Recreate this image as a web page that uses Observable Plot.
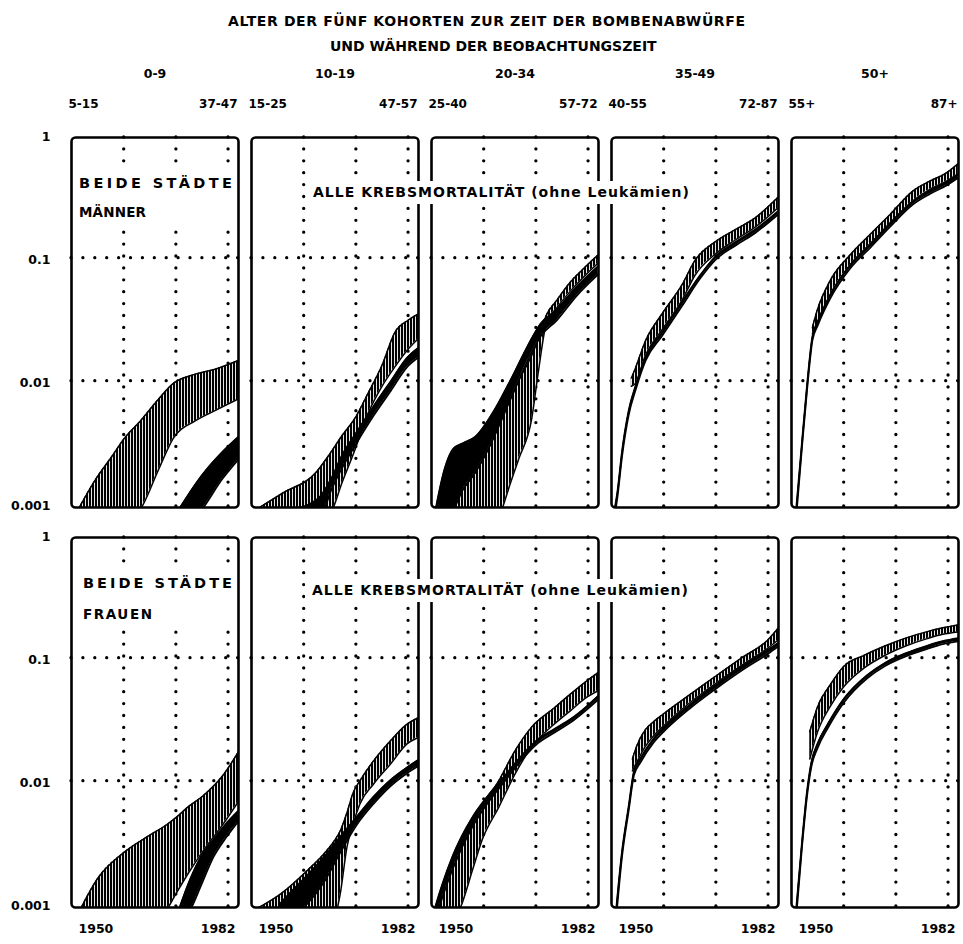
<!DOCTYPE html>
<html>
<head>
<meta charset="utf-8">
<script src="https://cdn.jsdelivr.net/npm/d3@7"></script>
<script src="https://cdn.jsdelivr.net/npm/@observablehq/plot@0.6"></script>
<style>
  body { margin: 0; background: #fff; }
  #wrap { position: relative; width: 963px; height: 944px; overflow: hidden; background: #fff; }
  #wrap svg { position: absolute; left: 0; top: 0; }
  .lbl { position: absolute; white-space: pre; font-family: "DejaVu Sans", sans-serif; font-weight: bold; line-height: 1.2; color: #000; }
  .box { position: absolute; background: #fff; }
</style>
</head>
<body>
<div id="wrap"></div>
<script>
// ---------- categories & tick labels ----------
const cohorts = ["0-9", "10-19", "20-34", "35-49", "50+"];
const ageAtBomb = ["5-15", "15-25", "25-40", "40-55", "55+"];
const ageAtEnd = ["37-47", "47-57", "57-72", "72-87", "87+"];
const sexes = ["MÄNNER", "FRAUEN"];
const yTickValues = [0.001, 0.01, 0.1, 1];
const yTickLabels = ["0.001", "0.01", "0.1", "1"];
const xTickYears = [1950, 1982];
const gridYears = [1960, 1970, 1980];
const gridRates = [0.01, 0.1];

// ---------- hatched bands (observed): [year, lower, upper] ----------
const hatchM0 = [[1951.3,0.0007,0.0009],[1954.6,0.0007,0.00157],[1957.8,0.0007,0.00244],[1960.0,0.0007,0.00334],[1963.2,0.0009,0.0047],[1966.7,0.0019,0.0071],[1969.5,0.0034,0.0095],[1973.7,0.0047,0.0113],[1977.5,0.0057,0.0124],[1982.0,0.0071,0.0146]];
const hatchM1 = [[1951.0,0.0007,0.0009],[1956.0,0.0007,0.00122],[1962.3,0.0007,0.00178],[1964.9,0.0008,0.0025],[1967.4,0.0015,0.0036],[1969.9,0.0028,0.0050],[1972.4,0.0055,0.0080],[1975.0,0.0090,0.0133],[1977.5,0.0130,0.0248],[1980.0,0.0180,0.0310],[1982.0,0.0220,0.0350]];
const hatchM2 = [[1953.6,0.0007,0.0009],[1956.0,0.0007,0.0013],[1958.4,0.0007,0.0018],[1962.1,0.0007,0.0036],[1963.0,0.0008,0.0045],[1965.2,0.0015,0.0072],[1966.7,0.0023,0.0100],[1969.2,0.0049,0.0160],[1970.5,0.0120,0.0220],[1972.0,0.0290,0.0340],[1974.0,0.0390,0.0450],[1976.7,0.0540,0.0640],[1979.2,0.0700,0.0820],[1981.9,0.0900,0.1050]];
const hatchM3 = [[1953.8,0.0090,0.0105],[1954.6,0.0095,0.0127],[1956.5,0.0160,0.0210],[1959.7,0.0260,0.0350],[1963.5,0.0450,0.0600],[1966.0,0.0720,0.0950],[1970.0,0.1080,0.1360],[1973.8,0.1400,0.1700],[1977.6,0.1780,0.2120],[1981.9,0.2550,0.3100]];
const hatchM4 = [[1954.0,0.024,0.027],[1954.9,0.029,0.037],[1957.4,0.050,0.065],[1961.3,0.088,0.106],[1965.1,0.130,0.155],[1968.9,0.190,0.225],[1973.3,0.290,0.350],[1976.5,0.360,0.420],[1979.7,0.420,0.490],[1981.9,0.480,0.580]];
const hatchF0 = [[1951.7,0.0007,0.0009],[1955.0,0.0007,0.0016],[1960.0,0.0007,0.0026],[1965.0,0.0007,0.0036],[1968.3,0.0009,0.0044],[1970.0,0.0012,0.0050],[1972.5,0.0018,0.0062],[1975.0,0.0026,0.0074],[1979.0,0.0044,0.0110],[1982.0,0.0068,0.0172]];
const hatchF1 = [[1950.8,0.0007,0.0009],[1955.6,0.0007,0.0012],[1960.7,0.0007,0.00186],[1963.9,0.0007,0.00255],[1966.0,0.0008,0.0033],[1967.0,0.0012,0.0039],[1968.3,0.0029,0.0055],[1969.5,0.0045,0.0080],[1970.8,0.0065,0.0100],[1973.4,0.0094,0.0145],[1976.6,0.0136,0.0210],[1979.8,0.0199,0.0288],[1982.0,0.0225,0.0326]];
const hatchF2 = [[1950.9,0.0007,0.0009],[1953.4,0.0007,0.00186],[1955.4,0.0009,0.0028],[1957.9,0.0019,0.0045],[1959.7,0.0033,0.0061],[1962.9,0.0061,0.0100],[1966.0,0.0113,0.0175],[1969.1,0.0186,0.0270],[1973.5,0.0288,0.0390],[1976.6,0.0370,0.0505],[1979.7,0.0475,0.0645],[1982.0,0.0540,0.0760]];
const hatchF3 = [[1954.0,0.0120,0.0150],[1954.8,0.0140,0.0190],[1956.5,0.0190,0.0260],[1958.0,0.0230,0.0300],[1960.0,0.0280,0.0350],[1965.0,0.0430,0.0500],[1970.0,0.0620,0.0710],[1975.0,0.0870,0.1000],[1980.0,0.1200,0.1400],[1982.0,0.1400,0.1750]];
const hatchF4 = [[1953.5,0.0150,0.0250],[1955.0,0.0250,0.0400],[1957.4,0.0400,0.0600],[1960.0,0.0580,0.0850],[1964.0,0.0830,0.1050],[1968.0,0.1050,0.1250],[1972.0,0.1250,0.1450],[1976.0,0.1430,0.1630],[1979.0,0.1550,0.1750],[1982.0,0.1620,0.1850]];

// ---------- solid bands (expected): [year, lower, upper] ----------
const solidM0 = [[1970.6,0.0006,0.0009],[1975.0,0.0009,0.0017],[1978.8,0.00157,0.0026],[1982.0,0.0023,0.0035]];
const solidM1 = [[1958.0,0.0006,0.0009],[1962.8,0.0007,0.0011],[1965.3,0.0013,0.0016],[1967.2,0.0019,0.0024],[1970.3,0.0032,0.0039],[1973.4,0.0052,0.0062],[1976.7,0.0083,0.0099],[1979.8,0.0129,0.0153],[1982.0,0.0155,0.0185]];
const solidM2 = [[1950.8,0.0007,0.0009],[1952.5,0.0008,0.0019],[1954.2,0.0009,0.0028],[1956.0,0.0013,0.0031],[1958.4,0.0018,0.0035],[1962.1,0.0036,0.0058],[1965.2,0.0072,0.0102],[1968.4,0.0145,0.0190],[1970.9,0.0230,0.0290],[1974.0,0.0310,0.0380],[1977.8,0.0490,0.0580],[1981.9,0.0730,0.0850]];
const solidM3 = [[1950.4,0.0007,0.0008],[1951.2,0.0012,0.0013],[1952.0,0.0024,0.0026],[1953.3,0.0053,0.0057],[1954.6,0.0084,0.0090],[1956.5,0.0145,0.0155],[1959.7,0.0232,0.0248],[1963.5,0.0405,0.0435],[1967.0,0.0680,0.0720],[1970.0,0.0970,0.1030],[1973.8,0.1260,0.1340],[1977.6,0.1600,0.1700],[1981.9,0.2250,0.2380]];
const solidM4 = [[1950.8,0.0007,0.0008],[1952.0,0.0029,0.0031],[1953.0,0.0087,0.0093],[1954.0,0.0213,0.0227],[1955.0,0.0280,0.0300],[1957.4,0.0465,0.0495],[1961.3,0.0825,0.0875],[1965.1,0.1210,0.1290],[1968.9,0.1790,0.1910],[1973.3,0.2720,0.2880],[1976.5,0.3300,0.3500],[1979.7,0.3880,0.4120],[1981.9,0.4460,0.4740]];
const solidF0 = [[1970.6,0.0007,0.0009],[1972.8,0.0009,0.0016],[1974.8,0.0014,0.0024],[1977.2,0.0024,0.0033],[1979.5,0.0034,0.0044],[1982.0,0.0047,0.0057]];
const solidF1 = [[1955.5,0.0007,0.0010],[1958.0,0.0008,0.0013],[1960.7,0.0010,0.0017],[1963.9,0.0015,0.0024],[1967.0,0.0026,0.0035],[1970.2,0.0044,0.0051],[1973.4,0.0065,0.0074],[1976.6,0.0090,0.0101],[1979.8,0.0115,0.0128],[1982.0,0.0132,0.0148]];
const solidF2 = [[1950.6,0.0007,0.0009],[1952.0,0.0011,0.0014],[1954.0,0.0019,0.0024],[1957.8,0.0042,0.0050],[1961.0,0.0068,0.0077],[1964.1,0.0100,0.0110],[1967.3,0.0148,0.0160],[1970.4,0.0202,0.0216],[1973.5,0.0246,0.0262],[1976.6,0.0297,0.0315],[1979.7,0.0378,0.0400],[1982.0,0.0460,0.0490]];
const solidF3 = [[1950.8,0.0007,0.0008],[1952.0,0.0024,0.0026],[1953.3,0.0058,0.0062],[1954.3,0.0111,0.0119],[1955.5,0.0140,0.0150],[1958.0,0.0203,0.0217],[1960.0,0.0251,0.0269],[1965.0,0.0387,0.0413],[1970.0,0.0560,0.0600],[1975.0,0.0790,0.0850],[1980.0,0.1080,0.1160],[1982.0,0.1240,0.1320]];
const solidF4 = [[1950.8,0.0007,0.0008],[1952.0,0.0029,0.0031],[1953.0,0.0077,0.0083],[1953.8,0.0130,0.0140],[1955.0,0.0185,0.0200],[1957.0,0.0270,0.0290],[1960.0,0.0430,0.0460],[1964.5,0.0680,0.0720],[1968.0,0.0860,0.0910],[1972.0,0.1030,0.1090],[1976.0,0.1180,0.1250],[1979.0,0.1290,0.1360],[1982.0,0.1360,0.1440]];

// ---------- texts ----------
const title1 = "ALTER DER FÜNF KOHORTEN ZUR ZEIT DER BOMBENABWÜRFE";
const title2 = "UND WÄHREND DER BEOBACHTUNGSZEIT";
const placeLabel = "BEIDE STÄDTE";
const causeLabel = "ALLE KREBSMORTALITÄT (ohne Leukämien)";

// ---------- build tidy tables ----------
const hatchSets = [[hatchM0, hatchM1, hatchM2, hatchM3, hatchM4], [hatchF0, hatchF1, hatchF2, hatchF3, hatchF4]];
const solidSets = [[solidM0, solidM1, solidM2, solidM3, solidM4], [solidF0, solidF1, solidF2, solidF3, solidF4]];
const tidy = sets => sets.flatMap((row, r) => row.flatMap((arr, c) =>
  arr.map(([year, lo, hi]) => ({sex: sexes[r], cohort: cohorts[c], year, lo, hi}))));
const hatchRows = tidy(hatchSets);
const solidRows = tidy(solidSets);

const yLabelRows = sexes.flatMap(s => yTickValues.map((v, i) => ({sex: s, cohort: cohorts[0], v, label: yTickLabels[i]})));
const colRows = cohorts.map((c, i) => ({cohort: c, sex: sexes[0], left: ageAtBomb[i], right: ageAtEnd[i]}));
const xLabelRows = cohorts.flatMap(c => xTickYears.map(y => ({cohort: c, sex: sexes[1], year: y, label: String(y)})));

const FONT = "'DejaVu Sans', sans-serif";
const fac = {fx: "cohort", fy: "sex"};
const curve = "monotone-x";
const dotted = {stroke: "black", strokeWidth: 3.3, strokeDasharray: "0 11.9", strokeLinecap: "round"};

const svg = Plot.plot({
  width: 963,
  height: 944,
  marginTop: 137,
  marginBottom: 37,
  marginLeft: 69,
  marginRight: 2,
  x: {domain: [1950, 1982], axis: null},
  y: {type: "log", domain: [0.00093, 0.95], axis: null},
  fx: {domain: cohorts, axis: null, paddingInner: 0.0718, paddingOuter: 0},
  fy: {domain: sexes, axis: null, paddingInner: 0.075, paddingOuter: 0},
  style: {fontFamily: FONT, fontWeight: "bold", background: "white", overflow: "visible"},
  marks: [
    Plot.ruleX(gridYears, {x: d => d, ...dotted}),
    Plot.ruleY(gridRates, {y: d => d, ...dotted}),
    Plot.areaY(hatchRows, {...fac, x: "year", y1: "lo", y2: "hi", fill: "url(#hatch)", curve, clip: true}),
    Plot.line(hatchRows, {...fac, x: "year", y: "hi", stroke: "black", strokeWidth: 1.5, curve, clip: true}),
    Plot.line(hatchRows, {...fac, x: "year", y: "lo", stroke: "black", strokeWidth: 1.5, curve, clip: true}),
    Plot.areaY(solidRows, {...fac, x: "year", y1: "lo", y2: "hi", fill: "black", curve, clip: true}),
    Plot.line(solidRows, {...fac, x: "year", y: "hi", stroke: "black", strokeWidth: 1.9, curve, clip: true}),
    Plot.line(solidRows, {...fac, x: "year", y: "lo", stroke: "black", strokeWidth: 1.9, curve, clip: true}),
    Plot.frame({stroke: "black", strokeWidth: 2.6, rx: 4}),
    Plot.text(yLabelRows, {...fac, y: "v", text: "label", frameAnchor: "left", textAnchor: "end", dx: -21, dy: 2, fontSize: 12.5, fontWeight: "bold"}),
    Plot.text(colRows, {...fac, text: "cohort", frameAnchor: "top", dy: -68, fontSize: 12.5, fontWeight: "bold"}),
    Plot.text(colRows, {...fac, text: "left", frameAnchor: "top-left", textAnchor: "start", dx: -3, dy: -38, fontSize: 12, fontWeight: "bold"}),
    Plot.text(colRows, {...fac, text: "right", frameAnchor: "top-right", textAnchor: "end", dx: -1, dy: -38, fontSize: 12, fontWeight: "bold"}),
    Plot.text(xLabelRows.filter(d => d.year === xTickYears[0]), {...fac, x: "year", text: "label", frameAnchor: "bottom", textAnchor: "start", dx: 7, dy: 25, fontSize: 12.5, fontWeight: "bold"}),
    Plot.text(xLabelRows.filter(d => d.year === xTickYears[1]), {...fac, x: "year", text: "label", frameAnchor: "bottom", textAnchor: "end", dx: -3, dy: 25, fontSize: 12.5, fontWeight: "bold"})
  ]
});

// hatch pattern (dense vertical strokes)
const NS = "http://www.w3.org/2000/svg";
const defs = document.createElementNS(NS, "defs");
const pat = document.createElementNS(NS, "pattern");
pat.setAttribute("id", "hatch");
pat.setAttribute("patternUnits", "userSpaceOnUse");
pat.setAttribute("width", "3");
pat.setAttribute("height", "12");
const bg = document.createElementNS(NS, "rect");
bg.setAttribute("width", "3"); bg.setAttribute("height", "12"); bg.setAttribute("fill", "white");
const st = document.createElementNS(NS, "rect");
st.setAttribute("x", "0"); st.setAttribute("width", "2.1"); st.setAttribute("height", "12"); st.setAttribute("fill", "black");
pat.appendChild(bg); pat.appendChild(st); defs.appendChild(pat);
svg.insertBefore(defs, svg.firstChild);

const wrap = document.getElementById("wrap");
wrap.appendChild(svg);

// ---------- overlays: white boxes and fitted labels ----------
function box(x, y, w, h) {
  const d = document.createElement("div");
  d.className = "box";
  Object.assign(d.style, {left: x + "px", top: y + "px", width: w + "px", height: h + "px"});
  wrap.appendChild(d);
}
function label(text, x0, x1, yc, size) {
  const s = document.createElement("span");
  s.className = "lbl";
  s.textContent = text;
  Object.assign(s.style, {left: x0 + "px", top: (yc - 0.58 * size) + "px", fontSize: size + "px"});
  wrap.appendChild(s);
  const w = s.getBoundingClientRect().width;
  s.style.letterSpacing = Math.max(0, (x1 - x0 - w) / (text.length - 1)) + "px";
}

label(title1, 228, 745, 21, 14);
label(title2, 330, 643, 46, 14);

box(74, 166, 163, 62);
label(placeLabel, 79, 232, 183, 14.5);
label(sexes[0], 79, 146, 212, 13.5);
box(76, 566, 161, 64);
label(placeLabel, 83, 232, 583, 14.5);
label(sexes[1], 83, 152, 614, 13.5);

box(306, 181, 389, 23);
label(causeLabel, 313, 689, 192, 14);
box(305, 579, 389, 23);
label(causeLabel, 312, 688, 590, 14);
</script>
</body>
</html>
